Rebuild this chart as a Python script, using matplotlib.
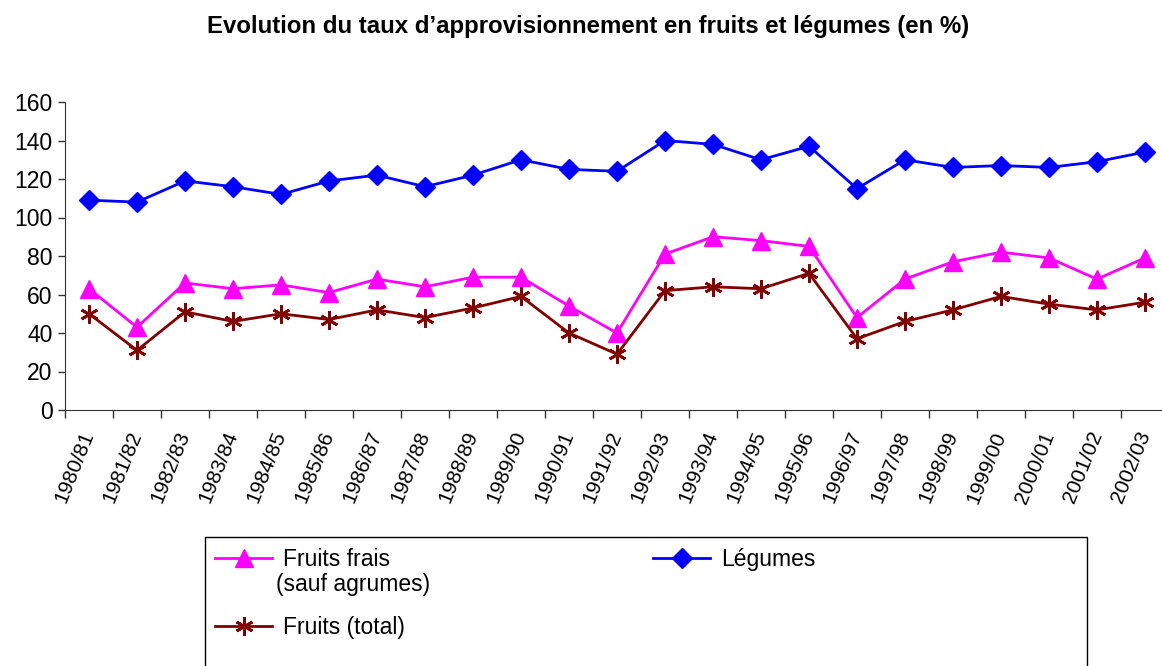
import matplotlib
matplotlib.use('Agg')
import matplotlib.pyplot as plt
from matplotlib.patches import Rectangle
import numpy as np

plt.rcParams['font.family'] = ['Liberation Sans', 'DejaVu Sans']

# data
campagnes = ['1980/81', '1981/82', '1982/83', '1983/84', '1984/85', '1985/86',
             '1986/87', '1987/88', '1988/89', '1989/90', '1990/91', '1991/92',
             '1992/93', '1993/94', '1994/95', '1995/96', '1996/97', '1997/98',
             '1998/99', '1999/00', '2000/01', '2001/02', '2002/03']
legumes = [109, 108, 119, 116, 112, 119, 122, 116, 122, 130, 125, 124,
           140, 138, 130, 137, 115, 130, 126, 127, 126, 129, 134]
fruits_frais = [63, 43, 66, 63, 65, 61, 68, 64, 69, 69, 54, 40,
                81, 90, 88, 85, 48, 68, 77, 82, 79, 68, 79]
fruits_total = [50, 31, 51, 46, 50, 47, 52, 48, 53, 59, 40, 29,
                62, 64, 63, 71, 37, 46, 52, 59, 55, 52, 56]

W, H = 1162, 666
fig = plt.figure(figsize=(W / 100, H / 100), dpi=100)
# the x axis runs slightly past the right edge of the picture, as in the source
ax = fig.add_axes([65 / W, 1 - 410 / H, 1104 / W, 308 / H])

x = np.arange(len(campagnes))
asterisk = (6, 2, 0)
l_frais, = ax.plot(x, fruits_frais, color='#FF00FF', lw=2, marker='^', ms=13,
                   clip_on=False)
l_leg, = ax.plot(x, legumes, color='#0000FF', lw=2, marker='D', ms=10.5,
                 clip_on=False)
l_tot, = ax.plot(x, fruits_total, color='#800000', lw=2, marker=asterisk, ms=13,
                 mew=2, clip_on=False)

ax.set_xlim(-0.5, len(campagnes) - 0.5)
ax.set_ylim(0, 160)
ax.set_yticks(range(0, 161, 20))
ax.set_xticks(x)
ax.set_xticklabels(campagnes, rotation=68, ha='right', va='center',
                   rotation_mode='anchor', fontsize=15)
ax.set_xticks(np.arange(-0.5, len(campagnes)), minor=True)
ax.tick_params(axis='x', which='major', length=0, pad=16)
ax.tick_params(axis='x', which='minor', length=6, width=1, color='#333333')
ax.tick_params(axis='y', length=5, width=1, color='#333333', labelsize=16.5, pad=4)
for s in ['top', 'right']:
    ax.spines[s].set_visible(False)
ax.spines['left'].set_color('#333333')
ax.spines['bottom'].set_color('#333333')

fig.text(588 / W, 1 - 27 / H, 'Evolution du taux d\u2019approvisionnement en fruits et légumes (en %)',
         ha='center', va='center', fontsize=17.3, fontweight='bold')

# legend box runs off the bottom of the picture
fig.add_artist(Rectangle((205 / W, -0.05), 882 / W, 1 - 537 / H + 0.05,
                         transform=fig.transFigure, fill=False, ec='black', lw=1))
fig.legend([l_frais, l_tot, l_leg], ['Fruits frais', 'Fruits (total)', 'Légumes'],
           ncol=2, loc='upper left', bbox_to_anchor=(215 / W, 1 - 548 / H),
           frameon=False, fontsize=16.5, handlelength=2.5, handletextpad=0.45,
           labelspacing=1.95, columnspacing=10.85, borderpad=0, borderaxespad=0)
fig.text(276 / W, 1 - 585 / H, '(sauf agrumes)', ha='left', va='center', fontsize=16.5)

fig.savefig('out.png', dpi=100)
